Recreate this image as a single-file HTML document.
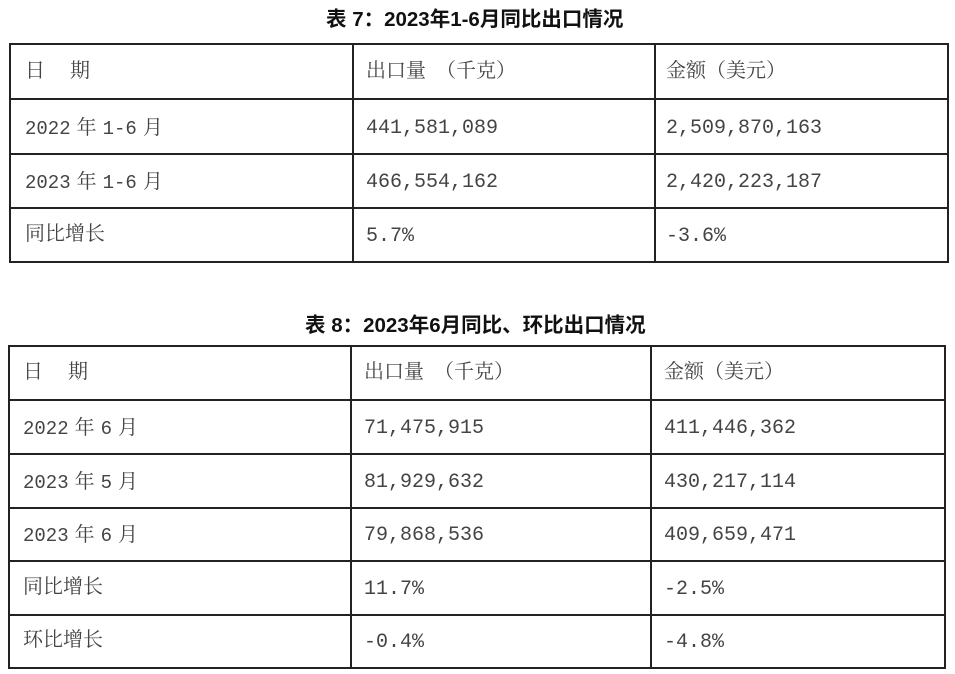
<!DOCTYPE html>
<html><head><meta charset="utf-8"><style>
body{margin:0;width:955px;height:674px;background:#fff;position:relative;overflow:hidden}
.t{position:absolute;font-family:"Liberation Sans","Noto Sans CJK SC",sans-serif;font-weight:bold;font-size:20.5px;color:#111;white-space:nowrap;line-height:24px}
.h{position:absolute;background:#222;height:1.5px}
.v{position:absolute;background:#222;width:1.5px}
.c{position:absolute;font-family:"Liberation Mono","Noto Serif CJK SC",serif;font-size:20px;color:#444;white-space:nowrap;line-height:24px}
.c.d{font-size:19px}
.c.d span{margin:0 6px;font-size:20px}
</style></head><body>
<div class="t" style="left:326px;top:8px">表 7：2023年1-6月同比出口情况</div>
<div class="h" style="left:9px;top:43px;width:940px"></div>
<div class="h" style="left:9px;top:98px;width:940px"></div>
<div class="h" style="left:9px;top:153px;width:940px"></div>
<div class="h" style="left:9px;top:207px;width:940px"></div>
<div class="h" style="left:9px;top:261px;width:940px"></div>
<div class="v" style="left:9px;top:43px;height:220px"></div>
<div class="v" style="left:352px;top:43px;height:220px"></div>
<div class="v" style="left:654px;top:43px;height:220px"></div>
<div class="v" style="left:947px;top:43px;height:220px"></div>
<div class="c" style="left:25px;top:61px">日<span style="margin-left:25px">期</span></div>
<div class="c" style="left:366px;top:61px">出口量<span style="margin-left:10px">（千克）</span></div>
<div class="c" style="left:666px;top:61px">金额（美元）</div>
<div class="c d" style="left:25px;top:117px">2022<span>年</span>1-6<span>月</span></div>
<div class="c" style="left:366px;top:117px">441,581,089</div>
<div class="c" style="left:666px;top:117px">2,509,870,163</div>
<div class="c d" style="left:25px;top:171px">2023<span>年</span>1-6<span>月</span></div>
<div class="c" style="left:366px;top:171px">466,554,162</div>
<div class="c" style="left:666px;top:171px">2,420,223,187</div>
<div class="c" style="left:25px;top:224px">同比增长</div>
<div class="c" style="left:366px;top:225px">5.7%</div>
<div class="c" style="left:666px;top:225px">-3.6%</div>

<div class="t" style="left:305px;top:314px">表 8：2023年6月同比、环比出口情况</div>
<div class="h" style="left:8px;top:345px;width:938px"></div>
<div class="h" style="left:8px;top:399px;width:938px"></div>
<div class="h" style="left:8px;top:453px;width:938px"></div>
<div class="h" style="left:8px;top:507px;width:938px"></div>
<div class="h" style="left:8px;top:560px;width:938px"></div>
<div class="h" style="left:8px;top:614px;width:938px"></div>
<div class="h" style="left:8px;top:667px;width:938px"></div>
<div class="v" style="left:8px;top:345px;height:324px"></div>
<div class="v" style="left:350px;top:345px;height:324px"></div>
<div class="v" style="left:650px;top:345px;height:324px"></div>
<div class="v" style="left:944px;top:345px;height:324px"></div>
<div class="c" style="left:23px;top:362px">日<span style="margin-left:25px">期</span></div>
<div class="c" style="left:364px;top:362px">出口量<span style="margin-left:10px">（千克）</span></div>
<div class="c" style="left:664px;top:362px">金额（美元）</div>
<div class="c d" style="left:23px;top:417px">2022<span>年</span>6<span>月</span></div>
<div class="c" style="left:364px;top:417px">71,475,915</div>
<div class="c" style="left:664px;top:417px">411,446,362</div>
<div class="c d" style="left:23px;top:471px">2023<span>年</span>5<span>月</span></div>
<div class="c" style="left:364px;top:471px">81,929,632</div>
<div class="c" style="left:664px;top:471px">430,217,114</div>
<div class="c d" style="left:23px;top:524px">2023<span>年</span>6<span>月</span></div>
<div class="c" style="left:364px;top:524px">79,868,536</div>
<div class="c" style="left:664px;top:524px">409,659,471</div>
<div class="c" style="left:23px;top:577px">同比增长</div>
<div class="c" style="left:364px;top:578px">11.7%</div>
<div class="c" style="left:664px;top:578px">-2.5%</div>
<div class="c" style="left:23px;top:630px">环比增长</div>
<div class="c" style="left:364px;top:631px">-0.4%</div>
<div class="c" style="left:664px;top:631px">-4.8%</div>
</body></html>
